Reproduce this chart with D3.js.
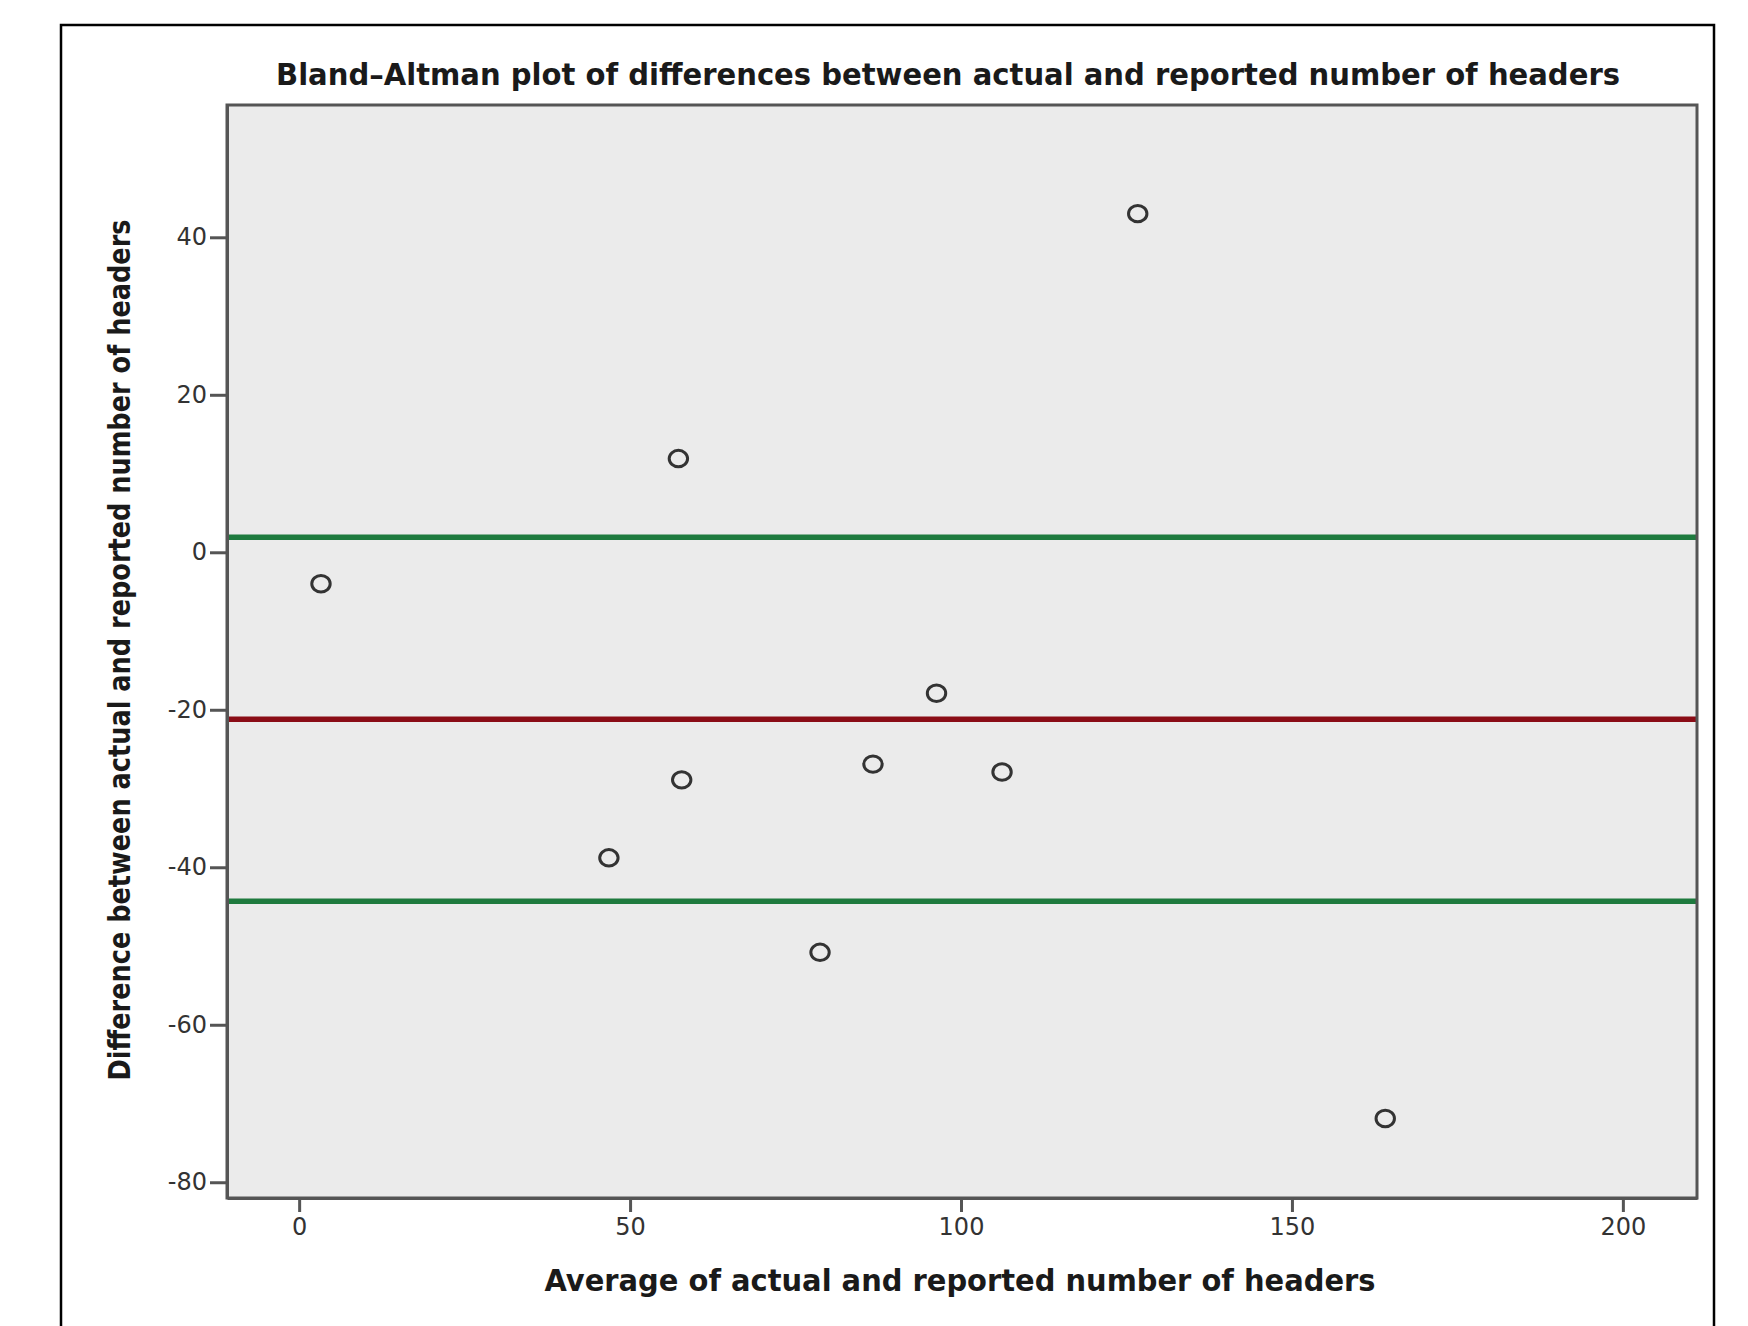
<!DOCTYPE html>
<html>
<head>
<meta charset="utf-8">
<script src="https://cdnjs.cloudflare.com/ajax/libs/d3/7.8.5/d3.min.js"></script>
<style>
  body { margin: 0; background: #fff; }
  .tick text { font-family: "DejaVu Sans", sans-serif; font-size: 24px; fill: #333; }
  .axis path, .axis line { stroke: #555; }
  .label { font-family: "DejaVu Sans", sans-serif; font-weight: bold; font-size: 30px; fill: #1a1a1a; }
</style>
</head>
<body>
<script>

/*
		 DATA
*/
var avgValues  = [3.3, 57.3, 126.7, 96.3, 57.8, 86.7, 106.2, 46.8, 78.7, 164.1];
var diffValues = [-4.0, 11.9, 43.0, -17.9, -28.9, -26.9, -27.9, -38.8, -50.8, -71.9];

var meanLine = -21.2;
var limitLines = [1.9, -44.3];

var xTicks = [0, 50, 100, 150, 200];
var yTicks = [-80, -60, -40, -20, 0, 20, 40];

var titleText = "Bland\u2013Altman plot of differences between actual and reported number of headers";
var xLabel = "Average of actual and reported number of headers";
var yLabel = "Difference between actual and reported number of headers";

/*
		 GLOBAL LAYOUT CONSTANTS
*/
var width = 1748;
var height = 1326;
var margin = {top: 105, right: 51, bottom: 128, left: 227};

var w = width - margin.left - margin.right;
var h = height - margin.top - margin.bottom;

var points = avgValues.map(function(d, i) { return {avg: d, diff: diffValues[i]}; });

/*
		 SCALES
*/
var x = d3.scaleLinear()
        .domain([-10.9, 211.2])
        .range([0, w]);

var y = d3.scaleLinear()
        .domain([-82.0, 56.8])
        .range([h, 0]);

var svg = d3.select("body").append("svg")
    .attr("width", width)
    .attr("height", height);

// outer black frame (open at the bottom like the source crop)
svg.append("path")
    .attr("d", "M61," + height + " V25 H1714 V" + height)
    .attr("fill", "none")
    .attr("stroke", "#000")
    .attr("stroke-width", 2.5);

// title
svg.append("text")
    .attr("class", "label")
    .attr("x", 948)
    .attr("y", 85)
    .attr("text-anchor", "middle")
    .attr("textLength", 1344)
    .attr("lengthAdjust", "spacingAndGlyphs")
    .text(titleText);

var chart = svg.append("g")
    .attr("transform", "translate(" + margin.left + "," + margin.top + ")");

// plot background
chart.append("rect")
    .attr("width", w)
    .attr("height", h)
    .attr("fill", "#ebebeb");

// mean and limit lines
chart.selectAll(".limit")
    .data(limitLines)
  .enter().append("line")
    .attr("class", "limit")
    .attr("x1", 0)
    .attr("x2", w)
    .attr("y1", function(d) { return y(d); })
    .attr("y2", function(d) { return y(d); })
    .attr("stroke", "#1e7a3e")
    .attr("stroke-width", 5.5);

chart.append("line")
    .attr("x1", 0)
    .attr("x2", w)
    .attr("y1", y(meanLine))
    .attr("y2", y(meanLine))
    .attr("stroke", "#8a0c16")
    .attr("stroke-width", 5.5);

// points
chart.selectAll("ellipse")
    .data(points)
  .enter().append("ellipse")
    .attr("cx", function(d) { return x(d.avg); })
    .attr("cy", function(d) { return y(d.diff); })
    .attr("rx", 9.2)
    .attr("ry", 8.2)
    .attr("fill", "none")
    .attr("stroke", "#333")
    .attr("stroke-width", 3);

// plot frame
chart.append("rect")
    .attr("width", w)
    .attr("height", h)
    .attr("fill", "none")
    .attr("stroke", "#555")
    .attr("stroke-width", 3);

// axes
chart.append("g")
    .attr("class", "axis")
    .attr("transform", "translate(0," + h + ")")
    .call(d3.axisBottom(x).tickValues(xTicks).tickSizeInner(14).tickSizeOuter(0).tickPadding(6)
          .tickFormat(function(d) { return String(d); }))
    .call(function(g) { g.select(".domain").attr("stroke-width", 3); })
    .call(function(g) { g.selectAll(".tick line").attr("stroke-width", 3); });

chart.append("g")
    .attr("class", "axis")
    .call(d3.axisLeft(y).tickValues(yTicks).tickSizeInner(17).tickSizeOuter(0).tickPadding(3)
          .tickFormat(function(d) { return String(d); }))
    .call(function(g) { g.select(".domain").attr("stroke-width", 3); })
    .call(function(g) { g.selectAll(".tick line").attr("stroke-width", 3); });

// axis titles
svg.append("text")
    .attr("class", "label")
    .attr("x", 960)
    .attr("y", 1291)
    .attr("text-anchor", "middle")
    .attr("textLength", 831)
    .attr("lengthAdjust", "spacingAndGlyphs")
    .text(xLabel);

svg.append("text")
    .attr("class", "label")
    .attr("transform", "translate(130,650) rotate(-90)")
    .attr("text-anchor", "middle")
    .attr("textLength", 861)
    .attr("lengthAdjust", "spacingAndGlyphs")
    .text(yLabel);

</script>
</body>
</html>
